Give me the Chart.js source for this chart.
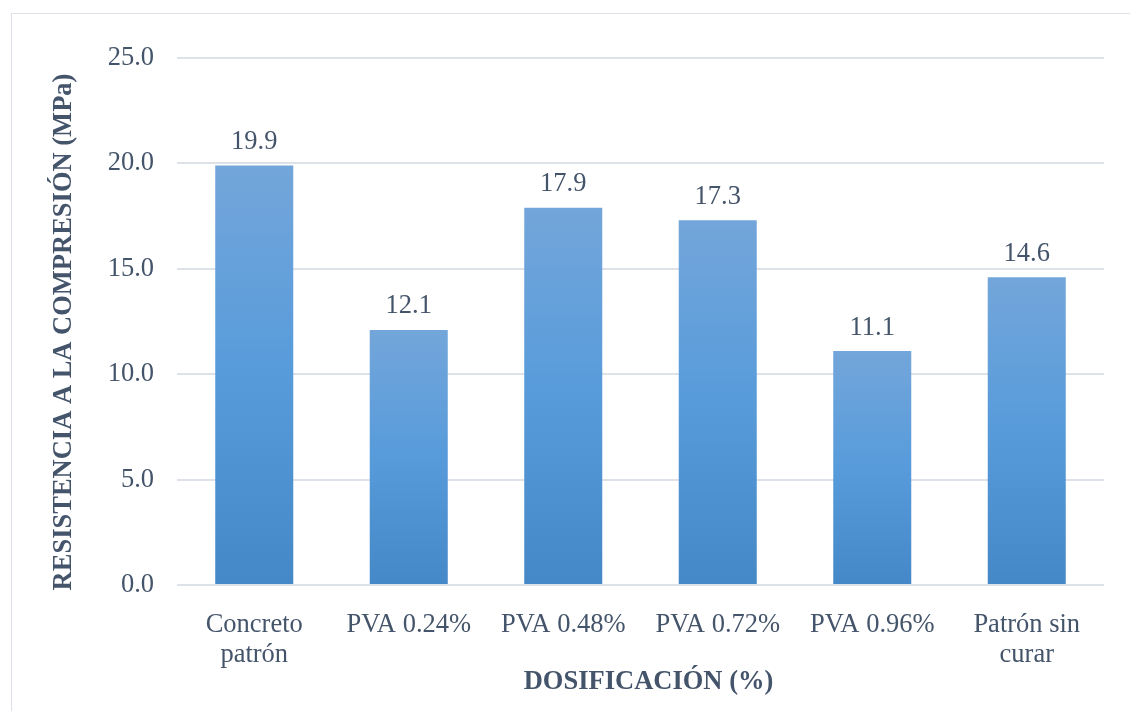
<!DOCTYPE html>
<html lang="es">
<head>
<meta charset="utf-8">
<title>Resistencia a la compresión</title>
<script src="https://cdn.jsdelivr.net/npm/chart.js@4.4.1/dist/chart.umd.min.js"></script>
<style>
  html, body { margin: 0; padding: 0; background: #ffffff; overflow: hidden; }
  #wrap { position: relative; width: 1130px; height: 711px; }
  #frame { position: absolute; left: 10.5px; top: 12.5px; width: 1300px; height: 900px;
           border: 1.5px solid #dde1e8; box-sizing: border-box; }
  canvas { position: absolute; left: 0; top: 0; }
</style>
</head>
<body>
<div id="wrap">
  <div id="frame"></div>
  <canvas id="chart" width="1130" height="711"></canvas>
</div>
<script>
// Mezclas ensayadas
const categories = [
  ['Concreto', 'patrón'],
  'PVA 0.24%',
  'PVA 0.48%',
  'PVA 0.72%',
  'PVA 0.96%',
  ['Patrón sin', 'curar']
];

// Resistencia a la compresión (MPa)
const resistance = [19.9, 12.1, 17.9, 17.3, 11.1, 14.6];

// Valores del eje vertical
const yTicks = [0, 5, 10, 15, 20, 25];

const xTitle = 'DOSIFICACIÓN (%)';
const yTitle = 'RESISTENCIA A LA COMPRESIÓN (MPa)';

const TEXT = '#44546a';
const GRID = '#dde1e8';
const SERIF = '"Liberation Serif", "Times New Roman", serif';
const FS = 26.5;

// Degradado vertical de cada barra
function barFill(ctx) {
  const chart = ctx.chart;
  const y = chart.scales && chart.scales.y;
  if (!chart.chartArea || !y || ctx.type !== 'data') return '#5b9bd5';
  const top = y.getPixelForValue(ctx.raw);
  const base = y.getPixelForValue(0);
  const g = chart.ctx.createLinearGradient(0, top, 0, base);
  g.addColorStop(0, '#73a6da');
  g.addColorStop(0.5, '#579bdb');
  g.addColorStop(1, '#4488c7');
  return g;
}

// Etiquetas de valor sobre las barras
const valueLabels = {
  id: 'valueLabels',
  afterDatasetsDraw(chart) {
    const ctx = chart.ctx;
    const meta = chart.getDatasetMeta(0);
    const data = chart.data.datasets[0].data;
    ctx.save();
    ctx.fillStyle = TEXT;
    ctx.font = FS + 'px ' + SERIF;
    ctx.textAlign = 'center';
    ctx.textBaseline = 'alphabetic';
    meta.data.forEach((bar, i) => {
      ctx.fillText(data[i].toFixed(1), bar.x, bar.y - 16.5);
    });
    ctx.restore();
  }
};

// Títulos de los ejes
const axisTitles = {
  id: 'axisTitles',
  afterDraw(chart) {
    const ctx = chart.ctx;
    const area = chart.chartArea;
    ctx.save();
    ctx.fillStyle = TEXT;
    ctx.font = 'bold ' + FS + 'px ' + SERIF;
    ctx.textAlign = 'center';
    ctx.textBaseline = 'alphabetic';
    ctx.fillText(xTitle, (area.left + area.right) / 2 + 8, 689);
    ctx.translate(70.5, (area.top + area.bottom) / 2 + 10.5);
    ctx.rotate(-Math.PI / 2);
    ctx.fillText(yTitle, 0, 0);
    ctx.restore();
  }
};

new Chart(document.getElementById('chart'), {
  type: 'bar',
  data: {
    labels: categories,
    datasets: [{
      data: resistance,
      backgroundColor: barFill,
      borderWidth: 0,
      categoryPercentage: 1,
      barPercentage: 0.505
    }]
  },
  options: {
    responsive: false,
    animation: false,
    devicePixelRatio: 1,
    layout: { padding: { top: 58, right: 26, bottom: 0, left: 0 } },
    plugins: {
      legend: { display: false },
      tooltip: { enabled: false },
      title: { display: false }
    },
    scales: {
      x: {
        grid: { display: false },
        border: { display: false },
        ticks: {
          color: TEXT,
          font: { family: SERIF, size: FS, lineHeight: 1.11 },
          padding: 17.5,
          maxRotation: 0,
          autoSkip: false
        },
        afterFit(scale) { scale.height = 126; }
      },
      y: {
        min: yTicks[0],
        max: yTicks[yTicks.length - 1],
        afterBuildTicks(scale) { scale.ticks = yTicks.map(v => ({ value: v })); },
        grid: { color: GRID, lineWidth: 2, drawTicks: false },
        border: { display: false },
        ticks: {
          color: TEXT,
          font: { family: SERIF, size: FS },
          padding: 23,
          callback: v => Number(v).toFixed(1)
        },
        afterFit(scale) { scale.width = 177; }
      }
    }
  },
  plugins: [valueLabels, axisTitles]
});
</script>
</body>
</html>
